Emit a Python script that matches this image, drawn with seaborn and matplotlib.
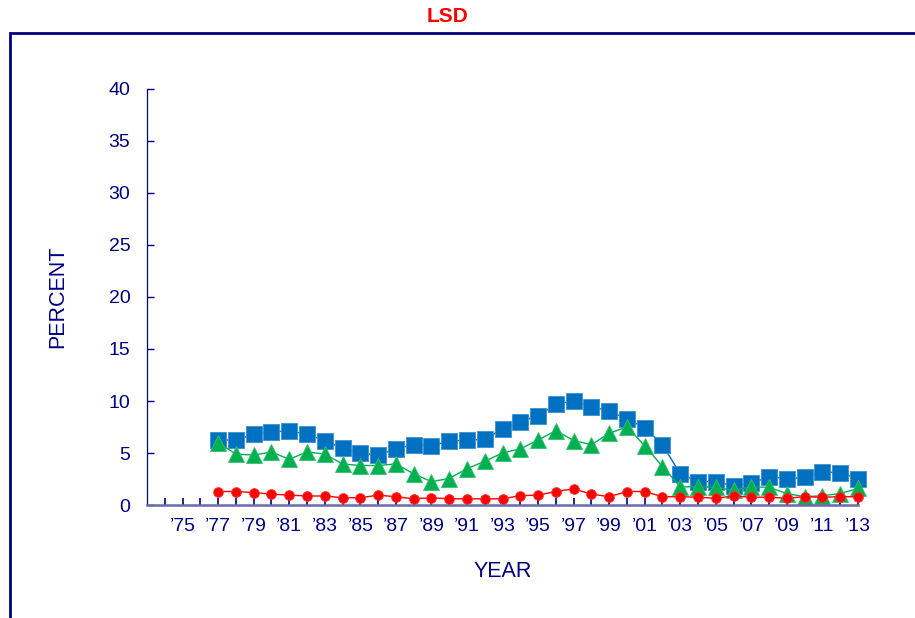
import numpy as np
import pandas as pd
import matplotlib
matplotlib.use("Agg")
import matplotlib.pyplot as plt
from matplotlib.patches import Rectangle
import seaborn as sns

# ==========================================
# data
# ==========================================
years = list(range(1977, 2014))

blue_sq = [6.25, 6.25, 6.8, 7.0, 7.15, 6.8, 6.2, 5.45, 5.0, 4.8,
           5.4, 5.8, 5.7, 6.15, 6.25, 6.3, 7.35, 8.0, 8.6, 9.7,
           10.0, 9.45, 9.05, 8.25, 7.45, 5.8, 3.0, 2.25, 2.25, 1.85,
           2.1, 2.7, 2.55, 2.65, 3.2, 3.1, 2.55]

green_tri = [6.0, 4.9, 4.8, 5.1, 4.4, 5.1, 4.9, 3.95, 3.8, 3.8,
             3.95, 3.0, 2.25, 2.55, 3.5, 4.2, 5.0, 5.4, 6.25, 7.15,
             6.2, 5.8, 6.9, 7.5, 5.7, 3.7, 1.75, 1.75, 1.7, 1.4,
             1.75, 1.7, 1.1, 0.8, 0.9, 1.1, 1.6]

red_dot = [1.3, 1.3, 1.2, 1.05, 0.95, 0.87, 0.87, 0.7, 0.7, 0.95,
           0.8, 0.6, 0.7, 0.6, 0.6, 0.6, 0.6, 0.9, 0.95, 1.3,
           1.55, 1.05, 0.8, 1.3, 1.3, 0.8, 0.8, 0.75, 0.65, 0.87,
           0.75, 0.75, 0.65, 0.8, 0.75, 0.8, 0.8]

tick_years = list(range(1975, 2014, 2))
tick_labels = ["\u2019" + str(y)[2:] for y in tick_years]

NAVY = "#000080"

# ==========================================
# plot
# ==========================================
sns.set_style("white")
plt.rcParams['font.family'] = ['Liberation Sans', 'DejaVu Sans']

fig = plt.figure(figsize=(9.15, 6.18), dpi=100)
ax = fig.add_axes([0.1607, 0.1828, 0.777, 0.6733])

df = pd.DataFrame({"year": years, "blue": blue_sq, "green": green_tri, "red": red_dot})

sns.lineplot(data=df, x="year", y="blue", ax=ax, color="#0070C0", marker="s",
             markersize=12, markeredgecolor="#3a8fd0", markeredgewidth=0.6,
             linewidth=1, clip_on=False)
sns.lineplot(data=df, x="year", y="green", ax=ax, color="#00B050", marker="^",
             markersize=12, markeredgecolor="#33c070", markeredgewidth=0.6,
             linewidth=1, clip_on=False)
sns.lineplot(data=df, x="year", y="red", ax=ax, color="#FF0000", marker="o",
             markersize=7, markeredgecolor="#ff3030", markeredgewidth=0.6,
             linewidth=1, clip_on=False)

ax.set_xlim(1973, 2013)
ax.set_ylim(0, 40)
ax.set_yticks(range(0, 41, 5))
ax.set_xticks(tick_years)
ax.set_xticklabels(tick_labels)
ax.set_xticks(range(1974, 2014), minor=True)

ax.tick_params(axis='both', which='both', direction='in', colors=NAVY,
               labelsize=14, bottom=True, left=True)
ax.tick_params(axis='x', which='major', length=5, width=1.2, pad=9)
ax.tick_params(axis='x', which='minor', length=5, width=1.2)
ax.tick_params(axis='y', length=5, width=1, pad=12)

for s in ["top", "right"]:
    ax.spines[s].set_visible(False)
ax.spines["left"].set_color(NAVY)
ax.spines["bottom"].set_color("#6a6aaa")
ax.spines["bottom"].set_linewidth(1.8)
ax.spines["left"].set_linewidth(0.9)

ax.set_xlabel("YEAR", color=NAVY, fontsize=15.5, labelpad=19)
ax.set_ylabel("PERCENT", color=NAVY, fontsize=15.5, labelpad=29)

# outer frame + title
fig.patches.append(Rectangle((10 / 915, -0.1), 1.1, 1 - 33 / 618 + 0.1,
                             transform=fig.transFigure, fill=False,
                             edgecolor=NAVY, linewidth=2))
fig.text(447 / 915, 1 - 17 / 618, "LSD", color="#FF0000", fontsize=15,
         fontweight="bold", ha="center", va="center")

fig.savefig("out.png", dpi=100)
